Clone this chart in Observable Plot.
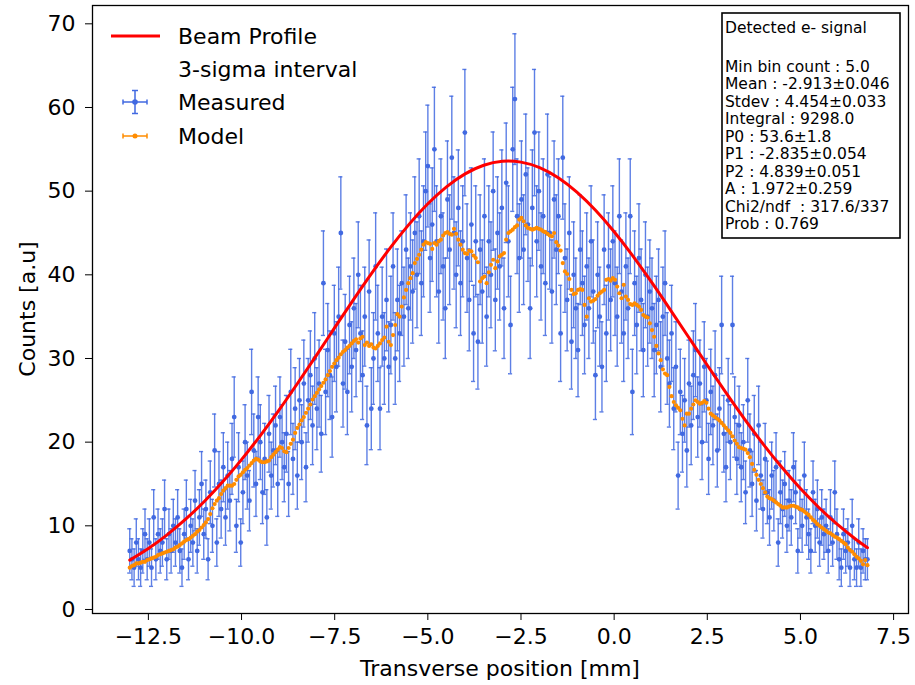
<!DOCTYPE html>
<html>
<head>
<meta charset="utf-8">
<script src="https://cdn.jsdelivr.net/npm/d3@7"></script>
<script src="https://cdn.jsdelivr.net/npm/@observablehq/plot@0.6"></script>
<style>
  body { margin: 0; background: #fff; }
  #chart svg { display: block; }
  text { white-space: pre; }
</style>
</head>
<body>
<div id="chart"></div>
<script>
// ---- data ----
const binStart = -13.0;      // centre of first bin [mm]
const binWidth = 0.0584;     // bin width [mm]

const measured = [
  7,6,5,8,6,5,7,9,6,8,5,11,6,9,7,8,12,6,9,7,
  10,8,11,7,5,9,12,6,10,8,13,7,11,15,9,12,6,14,10,19,
  8,15,12,17,11,16,13,18,23,10,17,8,14,20,16,13,26,19,15,23,
  20,14,18,11,21,16,19,22,15,23,20,17,21,15,26,18,24,16,25,20,
  27,17,25,28,22,30,24,27,21,39,26,31,28,23,33,29,35,45,27,32,
  26,34,29,36,31,40,33,28,35,22,38,24,30,41,33,24,35,30,37,29,
  34,41,30,37,33,39,35,43,36,41,38,45,40,47,39,44,50,53,42,46,
  55,44,38,47,41,36,49,43,54,45,40,48,39,44,57,42,37,46,33,44,
  32,43,38,47,35,44,40,50,37,45,41,48,36,51,44,34,55,61,47,42,
  49,43,52,46,36,48,57,44,50,41,47,39,52,45,38,49,43,47,33,54,
  42,37,45,32,40,36,31,43,39,34,41,36,44,38,28,40,35,29,43,33,
  41,37,44,39,35,47,38,33,41,36,47,26,39,34,42,37,31,40,35,38,
  36,31,34,37,29,35,39,30,27,33,24,29,16,26,21,25,19,27,22,28,
  31,23,27,20,29,25,18,26,22,28,19,24,34,21,17,25,20,34,23,18,
  22,17,20,14,25,19,15,21,13,22,16,12,18,14,11,16,13,17,8,14,
  12,15,10,13,11,17,14,7,12,10,16,11,9,7,14,10,12,8,11,9,
  10,7,11,8,14,9,6,5,9,7,8,5,10,6,5,8,5,7,6,6
];

const model = [
  5.0,5.2,5.3,5.5,5.5,5.6,5.7,5.7,5.9,6.0,6.1,6.2,6.3,6.5,6.6,6.7,6.8,6.9,7.0,7.1,
  7.2,7.4,7.5,7.7,7.9,8.1,8.3,8.4,8.6,8.8,9.0,9.3,9.5,9.8,10.1,10.4,10.8,11.4,12.1,12.6,
  13.0,13.3,13.8,14.2,14.5,14.8,14.8,14.8,15.0,15.5,15.9,16.1,16.4,16.7,16.9,17.2,17.5,17.8,18.0,17.9,
  17.7,17.6,17.6,17.7,17.8,18.2,18.5,18.8,19.1,19.4,19.3,18.9,18.8,19.3,19.8,20.3,21.1,21.7,22.1,22.6,
  23.0,23.5,24.0,24.5,25.1,25.5,25.9,26.3,26.7,27.1,27.5,28.0,28.5,29.0,29.4,29.8,30.1,30.5,30.8,31.0,
  31.3,31.5,31.8,32.1,32.3,31.9,32.4,32.6,31.6,31.9,31.5,31.7,31.3,31.2,31.5,31.8,32.2,32.5,33.8,32.0,
  31.6,32.8,34.0,35.3,35.0,36.2,37.3,38.2,39.0,39.6,40.2,41.4,41.9,42.4,43.0,43.6,43.9,43.8,43.7,43.1,
  43.8,43.6,44.0,44.2,44.7,45.0,45.1,44.9,44.8,45.5,44.9,44.2,43.6,43.0,42.6,42.5,42.9,42.8,42.3,42.0,
  41.5,39.2,39.6,39.8,39.0,40.3,41.2,41.8,40.8,41.6,42.2,42.4,42.6,44.2,45.0,45.2,45.4,45.7,45.9,46.6,
  46.8,46.4,45.9,45.6,45.5,45.4,45.5,45.6,45.5,45.4,45.2,45.1,44.9,44.7,44.6,45.0,43.9,43.5,42.9,41.4,
  40.4,40.1,39.5,38.2,37.7,37.8,38.2,38.3,38.2,36.4,35.0,37.2,36.8,36.9,37.1,37.5,37.8,38.0,38.2,39.4,
  39.5,39.3,39.6,39.4,38.6,37.8,37.2,38.8,37.4,37.0,36.5,36.4,36.6,36.4,36.2,35.8,35.2,35.0,34.9,34.2,
  33.4,32.6,31.5,30.6,29.8,28.7,28.2,28.0,26.6,25.5,24.8,24.4,24.1,23.8,22.8,22.0,23.4,23.4,24.0,24.5,
  25.0,24.8,24.6,24.7,24.9,24.7,24.0,23.4,23.2,23.0,22.8,22.6,22.3,22.0,21.7,21.4,21.1,20.7,20.2,19.8,
  19.4,19.3,19.2,19.1,18.7,18.2,17.4,16.7,16.1,15.5,15.0,14.5,14.0,13.5,13.3,13.2,13.0,12.8,12.6,12.4,
  12.2,12.2,12.2,12.3,12.4,12.4,12.3,12.2,12.0,11.9,11.7,11.5,11.3,11.0,10.7,10.5,10.2,10.0,9.8,9.6,
  9.4,9.2,9.1,8.9,8.7,8.6,8.4,8.2,8.0,7.8,7.4,7.1,6.9,6.6,6.3,6.1,5.8,5.4,5.9,5.3
];

const profileX = [-13,-12.5,-12,-11.5,-11,-10.5,-10,-9.5,-9,-8.5,-8,-7.5,-7,-6.5,-6,-5.5,-5,-4.5,-4,-3.5,
  -3,-2.5,-2,-1.5,-1,-0.5,0,0.5,1,1.5,2,2.5,3,3.5,4,4.5,5,5.5,6,6.5,6.8];
const profileY = [5.90,7.29,8.92,10.79,12.91,15.29,17.91,20.76,23.80,27.01,30.32,33.68,37.01,40.24,43.28,46.06,
  48.49,50.52,52.07,53.10,53.57,53.47,52.81,51.60,49.88,47.71,45.15,42.27,39.15,35.88,32.54,29.19,25.91,
  22.75,19.77,16.99,14.45,12.16,10.13,8.34,7.39];

const xTicks = [-12.5,-10,-7.5,-5,-2.5,0,2.5,5,7.5];
const yTicks = [0,10,20,30,40,50,60,70];

const legendLabels = ["Beam Profile", "3-sigma interval", "Measured", "Model"];
const statsLines = [
  "Detected e- signal",
  "",
  "Min bin count : 5.0",
  "Mean : -2.913\u00b10.046",
  "Stdev : 4.454\u00b10.033",
  "Integral : 9298.0",
  "P0 : 53.6\u00b11.8",
  "P1 : -2.835\u00b10.054",
  "P2 : 4.839\u00b10.051",
  "A : 1.972\u00b10.259",
  "Chi2/ndf  : 317.6/337",
  "Prob : 0.769"
];
const xLabel = "Transverse position [mm]";
const yLabel = "Counts [a.u]";

// ---- build tables ----
const n = Math.min(measured.length, model.length);
const bins = d3.range(n).map(i => ({
  x: binStart + i * binWidth,
  y: measured[i],
  e: Math.sqrt(measured[i]),
  m: model[i]
}));
const profile = profileX.map((x, i) => ({x, y: profileY[i]}));

const blue = "#4169e1";
const orange = "#ff8c00";
const capHalf = 0.055;
const fmt = d3.format(".1f");

const chart = Plot.plot({
  width: 915,
  height: 685,
  marginLeft: 92,
  marginRight: 7,
  marginTop: 5,
  marginBottom: 72,
  style: {fontFamily: "DejaVu Sans, sans-serif", fontSize: "22px", color: "black", background: "white"},
  x: {domain: [-14.0, 7.9], ticks: xTicks, tickFormat: fmt, tickSize: 7, tickPadding: 8, label: null},
  y: {domain: [-0.48, 72.19], ticks: yTicks, tickSize: 7, tickPadding: 10, label: null},
  marks: [
    Plot.ruleX(bins, {x: "x", y1: d => d.y - d.e, y2: d => d.y + d.e, stroke: blue, strokeWidth: 1.4, strokeOpacity: 0.85}),
    Plot.ruleY(bins, {y: d => d.y + d.e, x1: d => d.x - capHalf, x2: d => d.x + capHalf, stroke: blue, strokeWidth: 1.4, strokeOpacity: 0.85}),
    Plot.ruleY(bins, {y: d => d.y - d.e, x1: d => d.x - capHalf, x2: d => d.x + capHalf, stroke: blue, strokeWidth: 1.4, strokeOpacity: 0.85}),
    Plot.ruleY(bins, {y: "y", x1: d => d.x - binWidth / 2, x2: d => d.x + binWidth / 2, stroke: blue, strokeWidth: 1.4}),
    Plot.dot(bins, {x: "x", y: "y", r: 2.4, fill: blue}),
    Plot.dot(bins, {x: "x", y: "m", r: 2.1, fill: orange}),
    Plot.line(profile, {x: "x", y: "y", stroke: "red", strokeWidth: 3, curve: "natural"}),
    Plot.frame({stroke: "black", strokeWidth: 1.3})
  ]
});

document.getElementById("chart").appendChild(chart);

// ---- overlays: axis labels, legend, stats box ----
const svg = d3.select(chart);
const font = "DejaVu Sans, sans-serif";

svg.append("text")
  .attr("x", 500).attr("y", 676)
  .attr("text-anchor", "middle")
  .style("font-family", font).style("font-size", "22px").attr("fill", "black")
  .text(xLabel);

svg.append("text")
  .attr("transform", "translate(35,309) rotate(-90)")
  .attr("text-anchor", "middle")
  .style("font-family", font).style("font-size", "22px").attr("fill", "black")
  .text(yLabel);

const lg = svg.append("g");
const rowY = [36, 69, 102, 136];
legendLabels.forEach((t, i) => {
  lg.append("text")
    .attr("x", 178).attr("y", rowY[i] + 8)
    .attr("text-anchor", "start")
    .style("font-family", font).style("font-size", "22px").attr("fill", "black")
    .text(t);
});
// Beam Profile swatch
lg.append("line").attr("x1", 111).attr("x2", 160).attr("y1", rowY[0]).attr("y2", rowY[0])
  .attr("stroke", "red").attr("stroke-width", 3);
// Measured swatch
{
  const cy = rowY[2], cx = 135;
  lg.append("line").attr("x1", 123).attr("x2", 147).attr("y1", cy).attr("y2", cy).attr("stroke", blue).attr("stroke-width", 1.5);
  lg.append("line").attr("x1", 123).attr("x2", 123).attr("y1", cy - 2.5).attr("y2", cy + 2.5).attr("stroke", blue).attr("stroke-width", 1.5);
  lg.append("line").attr("x1", 147).attr("x2", 147).attr("y1", cy - 2.5).attr("y2", cy + 2.5).attr("stroke", blue).attr("stroke-width", 1.5);
  lg.append("line").attr("x1", cx).attr("x2", cx).attr("y1", cy - 11.5).attr("y2", cy + 11.5).attr("stroke", blue).attr("stroke-width", 1.5);
  lg.append("line").attr("x1", cx - 3).attr("x2", cx + 3).attr("y1", cy - 11.5).attr("y2", cy - 11.5).attr("stroke", blue).attr("stroke-width", 1.5);
  lg.append("line").attr("x1", cx - 3).attr("x2", cx + 3).attr("y1", cy + 11.5).attr("y2", cy + 11.5).attr("stroke", blue).attr("stroke-width", 1.5);
  lg.append("circle").attr("cx", cx).attr("cy", cy).attr("r", 2.8).attr("fill", blue);
}
// Model swatch
{
  const cy = rowY[3], cx = 135;
  lg.append("line").attr("x1", 123).attr("x2", 147).attr("y1", cy).attr("y2", cy).attr("stroke", orange).attr("stroke-width", 1.5);
  lg.append("line").attr("x1", 123).attr("x2", 123).attr("y1", cy - 2.5).attr("y2", cy + 2.5).attr("stroke", orange).attr("stroke-width", 1.5);
  lg.append("line").attr("x1", 147).attr("x2", 147).attr("y1", cy - 2.5).attr("y2", cy + 2.5).attr("stroke", orange).attr("stroke-width", 1.5);
  lg.append("circle").attr("cx", cx).attr("cy", cy).attr("r", 2.5).attr("fill", orange);
}

// stats box
const sb = svg.append("g");
sb.append("rect").attr("x", 722).attr("y", 13).attr("width", 178).attr("height", 225)
  .attr("fill", "white").attr("stroke", "black").attr("stroke-width", 1.6);
statsLines.forEach((t, i) => {
  if (!t) return;
  const cy = i === 0 ? 27.5 : 66 + (i - 2) * 17.5;
  sb.append("text")
    .attr("x", 725).attr("y", cy + 5.5)
    .attr("text-anchor", "start")
    .attr("xml:space", "preserve")
    .style("font-family", font).style("font-size", "15.5px").attr("fill", "black")
    .text(t);
});
</script>
</body>
</html>
